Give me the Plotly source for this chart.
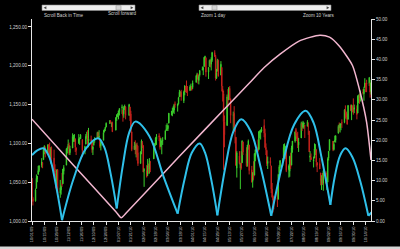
import pandas as pd
import plotly.graph_objects as go

# ---------------- data ----------------
holidays = ["2009-11-26", "2009-12-25", "2010-01-01", "2010-01-18", "2010-02-15",
            "2010-04-02", "2010-05-31", "2010-07-05", "2010-09-06"]
dates = [d for d in pd.bdate_range("2009-10-01", "2010-10-20") if d.strftime("%Y-%m-%d") not in holidays]

opens = [1055,1029,1026,1042,1054,1060,1065,1072,1074,1079,1090,1094,1088,1098,1091,1080,1095,1081,1067,1061,1044,1066,
         1036,1040,1048,1048,1064,1072,1093,1094,1098,1088,1094,1109,1110,1106,1094,1100,1106,1106,1105,1091,
         1099,1109,1110,1103,1105,1103,1092,1098,1104,1107,1114,1108,1106,1097,1104,1115,1119,1121,1127,1129,1125,1127,
         1117,1133,1136,1136,1141,1146,1143,1138,1146,1147,1136,1147,1138,1115,1092,1096,1092,1098,1088,
         1074,1090,1101,1097,1065,1065,1060,1069,1067,1076,1080,1096,1099,1105,1110,1107,1096,1101,1103,
         1105,1117,1119,1119,1126,1139,1138,1140,1143,1151,1148,1151,1160,1166,1166,1155,1166,1172,1170,1168,1168,1173,1172,
         1172,1179,1186,1189,1181,1188,1195,1195,1199,1210,1210,1192,1199,1207,1202,1207,1217,1212,1184,1193,1207,
         1188,1198,1170,1164,1128,1123,1156,1156,1171,1157,1136,1139,1119,1108,1068,1084,1068,1075,1075,1102,
         1087,1074,1098,1098,1066,1051,1063,1059,1083,1095,1092,1114,1115,1116,1123,1113,1095,1091,1074,1077,1071,1041,
         1031,1028,1029,1028,1062,1070,1077,1081,1095,1094,1093,1066,1064,1084,1072,1092,1103,1118,1113,1109,1098,
         1107,1126,1121,1125,1123,1122,1122,1116,1082,1082,1077,1081,1093,1092,1075,1074,1062,1049,1057,1049,1062,1047,
         1050,1081,1091,1103,1092,1102,1104,1113,1121,1120,1124,1127,1127,1143,1140,1132,1131,1149,1143,1147,1146,
         1144,1144,1139,1159,1161,1159,1166,1164,1172,1177,1178,1177,1178,1167]
highs = [1055,1031,1042,1060,1058,1071,1072,1081,1076,1093,1097,1096,1099,1099,1101,1095,1096,1092,1073,1064,1066,1067,
         1053,1046,1062,1067,1072,1094,1096,1105,1101,1097,1113,1111,1112,1106,1095,1112,1108,1112,1105,1097,
         1112,1115,1117,1120,1110,1103,1096,1104,1108,1115,1115,1117,1106,1103,1117,1119,1121,1127,1130,1130,1127,1128,
         1134,1137,1139,1142,1145,1150,1143,1148,1150,1148,1151,1147,1142,1115,1102,1104,1100,1101,1097,
         1090,1105,1103,1098,1068,1072,1080,1074,1081,1077,1095,1100,1108,1112,1113,1109,1107,1103,1108,
         1117,1124,1126,1124,1139,1142,1146,1148,1151,1154,1151,1160,1169,1167,1169,1168,1175,1174,1181,1174,1175,1177,1174,
         1181,1188,1191,1190,1188,1194,1199,1199,1211,1213,1211,1198,1208,1208,1211,1218,1220,1214,1196,1209,1208,
         1206,1198,1174,1168,1136,1163,1170,1172,1174,1158,1141,1148,1121,1108,1090,1090,1075,1090,1104,1102,
         1095,1098,1105,1098,1071,1063,1077,1087,1092,1105,1116,1117,1118,1121,1131,1119,1100,1092,1083,1082,1071,1049,
         1033,1032,1042,1061,1072,1078,1081,1099,1100,1097,1093,1073,1084,1088,1097,1103,1115,1120,1114,1115,1107,
         1128,1126,1129,1127,1124,1130,1127,1116,1090,1087,1083,1100,1099,1092,1076,1081,1062,1059,1062,1065,1064,1056,
         1082,1090,1105,1103,1103,1110,1110,1124,1127,1126,1126,1131,1144,1149,1141,1138,1149,1150,1150,1149,1158,
         1150,1149,1162,1163,1164,1168,1170,1173,1184,1178,1182,1185,1178,1182]
lows = [1029,1020,1025,1042,1050,1060,1063,1069,1068,1079,1086,1082,1086,1086,1080,1074,1073,1060,1058,1042,1044,1034,
        1030,1034,1044,1048,1060,1072,1087,1093,1085,1085,1094,1102,1102,1089,1085,1100,1098,1106,1083,1086,
        1099,1106,1098,1095,1100,1088,1085,1097,1101,1107,1105,1107,1094,1091,1104,1114,1116,1121,1125,1126,1121,1115,
        1117,1129,1134,1131,1136,1138,1128,1133,1143,1131,1136,1129,1114,1090,1092,1086,1082,1078,1071,
        1074,1086,1094,1063,1044,1056,1058,1061,1061,1063,1080,1093,1097,1098,1103,1092,1096,1086,1098,
        1105,1116,1116,1116,1126,1136,1135,1140,1138,1146,1141,1150,1160,1160,1155,1152,1162,1166,1165,1161,1168,1169,1168,
        1170,1178,1183,1177,1176,1186,1194,1188,1199,1208,1186,1183,1199,1198,1194,1205,1212,1181,1183,1193,1186,
        1188,1167,1154,1066,1095,1123,1147,1156,1156,1126,1115,1116,1100,1071,1056,1073,1041,1066,1075,1085,
        1070,1070,1092,1060,1050,1043,1053,1059,1077,1089,1092,1107,1105,1114,1108,1094,1085,1071,1067,1071,1036,1030,
        1011,1015,1018,1028,1058,1068,1071,1081,1087,1080,1063,1056,1057,1067,1072,1088,1101,1109,1103,1094,1089,
        1107,1116,1119,1119,1107,1122,1111,1089,1076,1079,1069,1081,1085,1070,1063,1067,1046,1040,1047,1039,1048,1040,
        1050,1078,1091,1090,1091,1102,1101,1113,1115,1114,1117,1120,1126,1132,1131,1124,1131,1142,1130,1140,1137,
        1139,1131,1139,1152,1151,1154,1163,1155,1172,1166,1166,1174,1159,1163]
closes = [1030,1025,1040,1055,1058,1065,1071,1076,1073,1092,1097,1088,1098,1091,1081,1093,1080,1067,1063,1043,1066,1036,
          1043,1045,1047,1067,1069,1093,1093,1099,1087,1093,1109,1110,1110,1095,1091,1106,1106,1111,1091,1096,
          1109,1109,1100,1106,1103,1092,1096,1102,1106,1114,1108,1109,1096,1102,1114,1118,1121,1126,1128,1126,1126,1115,
          1133,1137,1137,1142,1145,1147,1136,1146,1148,1136,1150,1138,1116,1092,1097,1092,1098,1085,1074,
          1089,1103,1097,1063,1066,1057,1071,1068,1078,1076,1095,1100,1107,1109,1108,1095,1105,1103,1104,
          1116,1118,1119,1123,1139,1139,1140,1146,1150,1150,1151,1159,1166,1166,1160,1166,1174,1168,1166,1167,1173,1173,1169,
          1178,1187,1189,1182,1186,1194,1196,1197,1211,1212,1192,1198,1207,1206,1209,1217,1212,1184,1191,1207,1187,
          1202,1174,1166,1128,1111,1160,1156,1172,1157,1136,1137,1121,1115,1072,1088,1074,1074,1068,1103,1089,
          1071,1098,1103,1065,1050,1062,1056,1087,1092,1090,1115,1115,1116,1118,1113,1095,1092,1074,1077,1075,1041,1031,
          1027,1023,1028,1060,1070,1078,1079,1095,1095,1096,1065,1071,1083,1070,1094,1103,1115,1114,1106,1102,1102,
          1126,1120,1127,1126,1122,1128,1121,1089,1084,1079,1079,1093,1094,1076,1072,1067,1052,1055,1047,1065,1049,1049,
          1080,1090,1105,1092,1099,1104,1110,1122,1121,1125,1125,1126,1143,1140,1134,1125,1149,1142,1148,1145,1141,
          1146,1137,1161,1160,1158,1165,1165,1170,1178,1174,1176,1185,1166,1178]

cycle_dates = ["2009-10-01", "2009-10-07", "2009-10-14", "2009-10-21", "2009-10-28", "2009-11-04", None,
               "2009-11-04", "2009-11-17", "2009-12-01", "2009-12-15", "2009-12-22", "2009-12-29", "2010-01-05", None,
               "2010-01-05", "2010-01-12", "2010-01-19", "2010-01-26", "2010-02-11", "2010-02-27", "2010-03-15", None,
               "2010-03-15", "2010-03-23", "2010-03-31", "2010-04-09", "2010-04-15", "2010-04-22", "2010-04-29", None,
               "2010-04-29", "2010-05-08", "2010-05-17", "2010-05-26", "2010-06-06", "2010-06-17", "2010-06-29", None,
               "2010-06-29", "2010-07-12", "2010-07-25", "2010-08-07", "2010-08-16", "2010-08-25", "2010-09-04", None,
               "2010-09-04", "2010-09-09", "2010-09-15", "2010-09-21", "2010-09-29", "2010-10-08", "2010-10-17", None,
               "2010-10-17", "2010-10-21"]
cycle_values = [16.3, 17.5, 18.0, 15.6, 9.0, 0.2, None,
                0.2, 10.4, 17.9, 20.5, 18.2, 11.8, 3.1, None,
                3.1, 13.9, 21.8, 24.6, 21.0, 11.0, 1.8, None,
                1.8, 10.5, 16.9, 19.2, 16.9, 10.3, 1.4, None,
                1.4, 13.3, 22.1, 25.2, 22.1, 13.3, 1.3, None,
                1.3, 14.3, 23.9, 27.3, 24.3, 15.7, 4.0, None,
                4.0, 11.0, 16.2, 18.0, 15.8, 9.7, 1.3, None,
                1.3, 2.2]

long_dates = ["2009-10-01", "2009-11-17", "2010-01-04", "2010-01-10", "2010-01-17", "2010-03-17",
              "2010-05-13", "2010-06-04", "2010-06-21", "2010-07-09", "2010-07-31", "2010-08-23",
              "2010-09-03", "2010-09-14", "2010-09-29", "2010-10-07", "2010-10-15", "2010-10-20"]
long_values = [25.2, 13.8, 2.3, 0.8, 2.3, 16.0, 29.1, 34.1, 38.0, 41.3, 44.6, 46.0,
               45.5, 43.3, 38.5, 32.5, 24.5, 15.1]

ui_labels = ["Scroll Back in Time", "Scroll forward", "Zoom 1 day", "Zoom 10 Years"]

# ---------------- figure ----------------
W, H = 400, 249
L, R, T, B = 32, 371, 19, 221

def px(x):
    return (x - L) / (R - L)

def py(y):
    return (B - y) / (B - T)

FONT = "Liberation Sans"
TXT = "#d0d0d0"

fig = go.Figure()
fig.add_trace(go.Candlestick(
    x=dates, open=opens, high=highs, low=lows, close=closes,
    increasing=dict(line=dict(color="#3ccf2c", width=1), fillcolor="#3ccf2c"),
    decreasing=dict(line=dict(color="#c4221c", width=1), fillcolor="#c4221c"),
    whiskerwidth=0, hoverinfo="skip", showlegend=False, yaxis="y"))
fig.add_trace(go.Scatter(
    x=long_dates, y=long_values, mode="lines", yaxis="y2",
    line=dict(color="#f2b6cf", width=1.5, shape="spline", smoothing=0.6),
    hoverinfo="skip", showlegend=False))
fig.add_trace(go.Scatter(
    x=cycle_dates, y=cycle_values, mode="lines", yaxis="y2", connectgaps=False,
    line=dict(color="#2fc0ea", width=2, shape="spline", smoothing=1.0),
    hoverinfo="skip", showlegend=False))

shapes = []
annotations = []

def tri(xc, yc, direction):
    # tiny arrow glyph for the scrollbar buttons, in paper coordinates
    s = 1.4
    if direction < 0:
        pts = [(xc - s, yc), (xc + s, yc - s), (xc + s, yc + s)]
    else:
        pts = [(xc + s, yc), (xc - s, yc - s), (xc - s, yc + s)]
    path = "M " + " L ".join(f"{px(a)},{py(b)}" for a, b in pts) + " Z"
    return dict(type="path", xref="paper", yref="paper", path=path, fillcolor="#444444",
                line=dict(width=0), layer="above")

# scrollbars (UI decoration)
for (x0, x1, t0, t1) in [(42, 135, 116, 121), (199, 331, 212, 217)]:
    shapes.append(dict(type="rect", xref="paper", yref="paper", x0=px(x0), x1=px(x1), y0=py(10.5), y1=py(5),
                       fillcolor="#ececec", line=dict(color="#8a8a8a", width=0.6), layer="above"))
    shapes.append(dict(type="rect", xref="paper", yref="paper", x0=px(t0), x1=px(t1), y0=py(10), y1=py(5.5),
                       fillcolor="#d2d2d2", line=dict(color="#9a9a9a", width=0.6), layer="above"))
    shapes.append(tri(x0 + 3, 7.75, -1))
    shapes.append(tri(x1 - 3, 7.75, 1))
for text, x, y in zip(ui_labels, [43, 107, 200, 302], [15.2, 13.9, 15.5, 15.5]):
    annotations.append(dict(xref="paper", yref="paper", x=px(x), y=py(y), text=text, showarrow=False,
                            xanchor="left", yanchor="middle", borderpad=0,
                            font=dict(size=4.6, color=TXT, family=FONT)))
# bottom frame band
shapes.append(dict(type="rect", xref="paper", yref="paper", x0=px(-2), x1=px(402), y0=py(250), y1=py(246.5),
                   fillcolor="#d6d6d6", line=dict(width=0), layer="above"))

axis_common = dict(showgrid=False, zeroline=False, showline=True, linecolor="#e6e6e6", linewidth=1,
                   ticks="outside", ticklen=3, tickcolor="#e6e6e6", tickwidth=1, automargin=False)

fig.update_layout(
    width=W, height=H, margin=dict(l=L, r=W - R, t=T, b=H - B, pad=0),
    paper_bgcolor="black", plot_bgcolor="black",
    showlegend=False, shapes=shapes, annotations=annotations,
    xaxis=dict(type="date", range=["2009-10-01", "2010-10-20"], rangeslider=dict(visible=False),
               tick0="2009-10-01", dtick=14 * 86400000, tickformat="%m/%d/%y", tickangle=-90,
               tickfont=dict(size=4.0, color=TXT, family=FONT), **axis_common),
    yaxis=dict(range=[1000, 1260.3], dtick=50, tick0=1000, tickformat=",.2f", side="left",
               tickfont=dict(size=4.6, color=TXT, family=FONT), **axis_common),
    yaxis2=dict(range=[0, 50], dtick=5, tick0=0, tickformat=".2f", overlaying="y", side="right",
                tickfont=dict(size=4.6, color=TXT, family=FONT), **axis_common),
)

fig.write_html("out.html", config={"displayModeBar": False})
